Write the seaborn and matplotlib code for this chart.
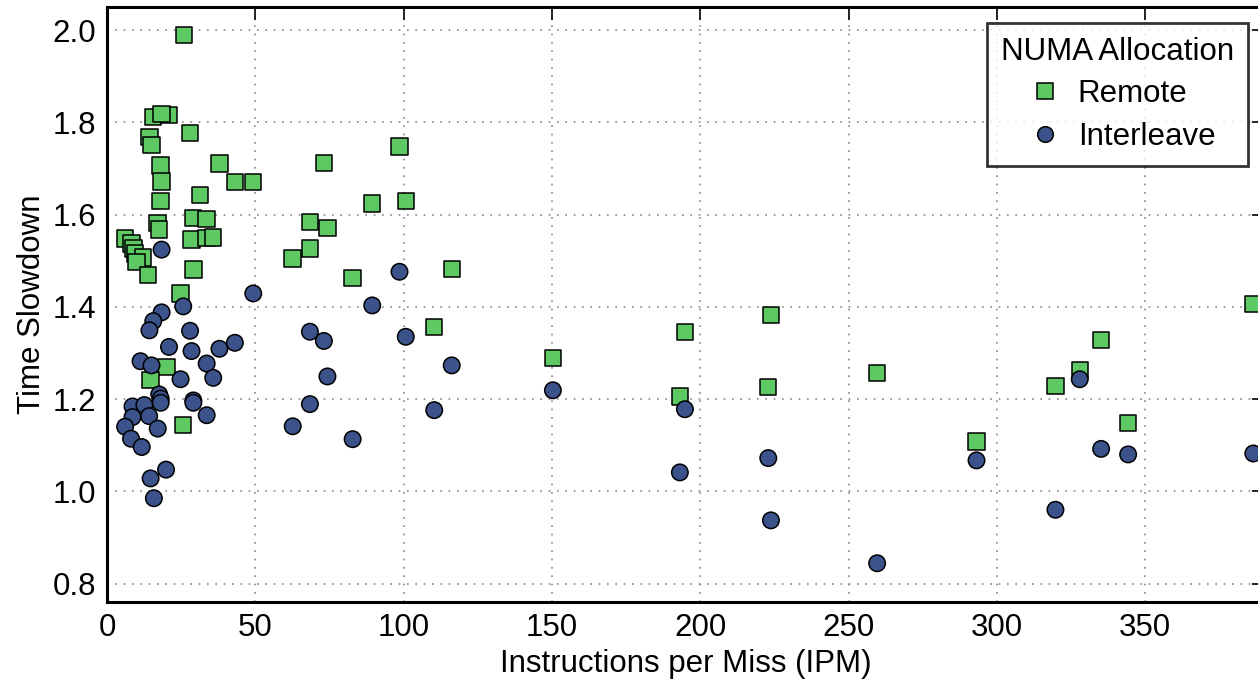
import matplotlib
matplotlib.use('Agg')
import matplotlib.pyplot as plt
import seaborn as sns
import pandas as pd

# Remote allocation: IPM vs time slowdown
remote_ipm = [26.0, 15.6, 20.9, 18.4, 28.0, 14.3, 15.0, 18.1, 37.9, 18.4,
              43.1, 49.3, 31.3, 18.1, 28.9, 33.6, 17.0, 17.5, 28.5, 33.6,
              35.8, 6.1, 8.3, 8.9, 9.4, 12.2, 10.0, 29.1, 13.9, 24.8,
              20.0, 14.7, 25.7, 98.6, 73.1, 89.4, 100.7, 68.4, 74.3, 68.4,
              62.6, 82.8, 116.2, 110.3, 150.3, 194.8, 193.1, 223.8, 222.9, 259.6,
              293.1, 319.7, 327.9, 335.1, 344.2, 386.4]
remote_slow = [1.989, 1.811, 1.816, 1.818, 1.777, 1.768, 1.751, 1.706, 1.711, 1.672,
               1.670, 1.670, 1.642, 1.629, 1.592, 1.590, 1.582, 1.568, 1.546, 1.549,
               1.550, 1.548, 1.537, 1.526, 1.516, 1.507, 1.497, 1.481, 1.469, 1.429,
               1.270, 1.241, 1.144, 1.748, 1.712, 1.624, 1.629, 1.584, 1.571, 1.526,
               1.505, 1.462, 1.482, 1.356, 1.289, 1.345, 1.206, 1.382, 1.226, 1.257,
               1.108, 1.228, 1.262, 1.328, 1.148, 1.406]

# Interleave allocation
inter_ipm = [18.4, 49.3, 25.7, 18.4, 15.6, 14.3, 28.0, 20.9, 28.5, 37.9,
             43.1, 11.3, 15.0, 33.6, 24.8, 35.8, 17.6, 18.1, 18.1, 29.1,
             29.1, 8.6, 12.6, 8.6, 14.2, 33.6, 6.1, 17.1, 8.1, 11.7,
             19.9, 14.7, 15.8, 98.6, 89.4, 100.7, 68.4, 73.1, 74.3, 68.4,
             62.6, 82.8, 116.2, 110.3, 150.3, 194.8, 193.1, 222.9, 223.8, 259.6,
             293.1, 319.7, 327.9, 335.1, 344.2, 386.4]
inter_slow = [1.524, 1.429, 1.401, 1.388, 1.369, 1.349, 1.348, 1.313, 1.304, 1.309,
              1.322, 1.282, 1.273, 1.277, 1.243, 1.246, 1.210, 1.201, 1.192, 1.197,
              1.192, 1.184, 1.187, 1.161, 1.163, 1.165, 1.140, 1.136, 1.114, 1.096,
              1.047, 1.028, 0.985, 1.476, 1.403, 1.335, 1.346, 1.326, 1.249, 1.189,
              1.141, 1.113, 1.273, 1.176, 1.219, 1.178, 1.041, 1.072, 0.937, 0.844,
              1.067, 0.960, 1.243, 1.092, 1.080, 1.082]

frame = pd.concat([
    pd.DataFrame({'ipm': remote_ipm, 'slowdown': remote_slow, 'alloc': 'Remote'}),
    pd.DataFrame({'ipm': inter_ipm, 'slowdown': inter_slow, 'alloc': 'Interleave'}),
], ignore_index=True)

sns.set_style('white')
plt.rcParams['font.family'] = ['Liberation Sans', 'DejaVu Sans']
plt.rcParams['font.size'] = 22
for key in ['text.color', 'axes.labelcolor', 'xtick.color', 'ytick.color']:
    plt.rcParams[key] = 'black'

fig = plt.figure(figsize=(12.58, 6.84), dpi=100)
ax = fig.add_axes([107 / 1258, 82 / 684, (1264 - 107) / 1258, (602 - 7) / 684])

sns.scatterplot(data=frame, x='ipm', y='slowdown', hue='alloc', style='alloc',
                hue_order=['Remote', 'Interleave'],
                palette={'Remote': '#5ec962', 'Interleave': '#3b528b'},
                markers={'Remote': 's', 'Interleave': 'o'},
                s=140, edgecolor='black', linewidth=1.1, ax=ax)

ax.set_xlim(0, 390)
ax.set_ylim(0.76, 2.05)
ax.set_xticks(range(0, 400, 50))
ax.set_yticks([0.8, 1.0, 1.2, 1.4, 1.6, 1.8, 2.0])
ax.set_xlabel('Instructions per Miss (IPM)', fontsize=22.5)
ax.set_ylabel('Time Slowdown', fontsize=22.5)

ax.grid(True, linestyle=(0, (1, 4)), color='#888888', linewidth=1.2)
ax.tick_params(direction='in', length=9, width=1.2, top=True, right=True,
               labelsize=22.5, pad=8)
for sp in ax.spines.values():
    sp.set_linewidth(2.2)
    sp.set_color('black')

leg = ax.legend(title='NUMA Allocation', loc='upper right', fontsize=22.5,
                title_fontsize=22.5, fancybox=False, frameon=True,
                borderaxespad=0.5, borderpad=0.45, labelspacing=0.4,
                handlelength=1.6, handletextpad=0.25, markerscale=0.95)
leg.get_frame().set_edgecolor('black')
leg.get_frame().set_linewidth(2)

fig.savefig('out.png', dpi=100)
